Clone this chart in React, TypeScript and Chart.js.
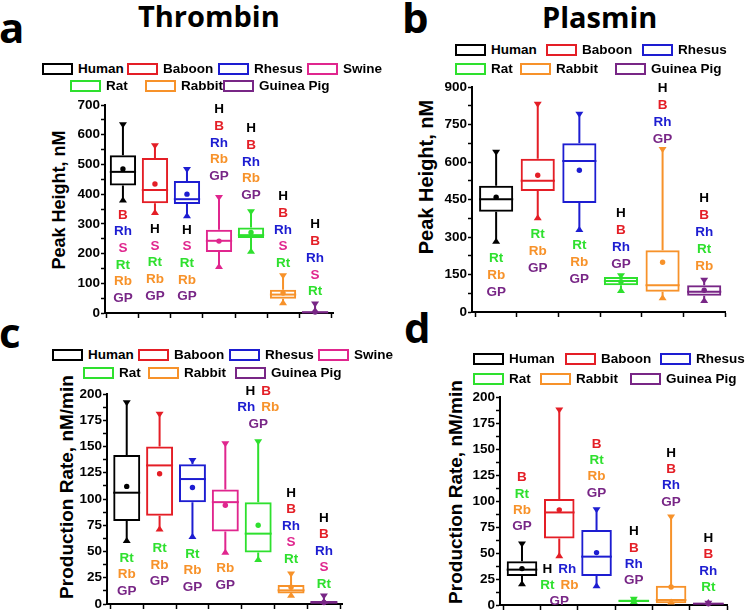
import React, { useEffect, useRef } from 'react';
import { Chart, registerables } from 'chart.js';
Chart.register(...registerables);

const FONT = '"Liberation Sans", Arial, Helvetica, sans-serif';
const HEAD_FONT = '"Open Sans", "Liberation Sans", Arial, sans-serif';

const SPECIES_COLORS: Record<string, string> = {
  Human: '#000000',
  Baboon: '#e41e26',
  Rhesus: '#1d1dd1',
  Swine: '#e0268e',
  Rat: '#2ee02e',
  Rabbit: '#f7922a',
  'Guinea Pig': '#782686',
};
const ABBR_COLORS: Record<string, string> = {
  H: '#000000', B: '#e41e26', Rh: '#1d1dd1', S: '#e0268e', Rt: '#2ee02e', Rb: '#f7922a', GP: '#782686',
};

// ---- categories ----
const speciesThrombin = ['Human', 'Baboon', 'Rhesus', 'Swine', 'Rat', 'Rabbit', 'Guinea Pig'];
const speciesPlasmin = ['Human', 'Baboon', 'Rhesus', 'Rat', 'Rabbit', 'Guinea Pig'];

// ---- (a) Thrombin peak height, nM ----
const thrPeakMin = [372, 330, 319, 148, 199, 26, 0];
const thrPeakQ1 = [429, 369, 367, 205, 252, 48, 0];
const thrPeakMedian = [475, 414, 383, 243, 262, 62, 2];
const thrPeakQ3 = [531, 522, 444, 280, 288, 78, 6];
const thrPeakMax = [642, 571, 491, 397, 349, 134, 39];
const thrPeakMean = [485, 434, 400, 242, 271, 67, 3];
const thrPeakNotes = ['B|Rh|S|Rt|Rb|GP', 'H|S|Rt|Rb|GP', 'H|S|Rt|Rb|GP', 'H|B|Rh|Rb|GP', 'H|B|Rh|Rb|GP', 'H|B|Rh|S|Rt', 'H|B|Rh|S|Rt'];
const thrPeakNoteAt = [330, 282, 280, 685, 621, 392, 297];
const thrPeakTicks = [0, 100, 200, 300, 400, 500, 600, 700];

// ---- (b) Plasmin peak height, nM ----
const plaPeakMin = [273, 367, 320, 76, 47, 36];
const plaPeakQ1 = [401, 484, 436, 107, 81, 65];
const plaPeakMedian = [451, 525, 604, 124, 107, 81];
const plaPeakQ3 = [505, 613, 675, 140, 247, 107];
const plaPeakMax = [649, 841, 801, 155, 660, 137];
const plaPeakMean = [459, 547, 567, 121, 199, 87];
const plaPeakNotes = ['Rt|Rb|GP', 'Rt|Rb|GP', 'Rt|Rb|GP', 'H|B|Rh|GP', 'H|B|Rh|GP', 'H|B|Rh|Rt|Rb'];
const plaPeakNoteAt = [213, 309, 267, 396, 896, 456];
const plaPeakTicks = [0, 150, 300, 450, 600, 750, 900];

// ---- (c) Thrombin production rate, nM/min ----
const thrRateMin = [58, 69, 62, 47, 40, 6, 0];
const thrRateQ1 = [79, 84, 97, 69, 49, 10, 0.3];
const thrRateMedian = [106, 132, 119, 97, 67, 13, 1.6];
const thrRateQ3 = [142, 150, 133, 109, 97, 18, 2.9];
const thrRateMax = [194, 183, 139, 155, 157, 31, 10];
const thrRateMean = [112, 124, 111, 94, 75, 16, 1.5];
const thrRateNotes = ['Rt|Rb|GP', 'Rt|Rb|GP', 'Rt|Rb|GP', 'Rb|GP', 'H B|Rh Rb|GP', 'H|B|Rh|S|Rt', 'H|B|Rh|S|Rt'];
const thrRateNoteAt = [43.6, 53, 47.4, 34, 203, 105.6, 81.7];
const thrRateTicks = [0, 25, 50, 75, 100, 125, 150, 175, 200];

// ---- (d) Plasmin production rate, nM/min ----
const plaRateMin = [18, 45, 16, 1, 0.6, 0];
const plaRateQ1 = [28, 64, 28, 3, 1.6, 0.6];
const plaRateMedian = [34, 89, 46.5, 4, 4.8, 1.3];
const plaRateQ3 = [42, 102, 72, 5, 18.6, 1.9];
const plaRateMax = [61, 190, 94, 8, 87, 4];
const plaRateMean = [35, 91.5, 50.4, 4.8, 17.3, 1.3];
const plaRateNotes = ['B|Rt|Rb|GP', 'H Rh|Rt Rb|GP', 'B|Rt|Rb|GP', 'H|B|Rh|GP', 'H|B|Rh|GP', 'H|B|Rh|Rt'];
const plaRateNoteAt = [122.6, 34.7, 154.7, 70.6, 146, 64.2];
const plaRateTicks = [0, 25, 50, 75, 100, 125, 150, 175, 200];

type PanelProps = {
  species: string[];
  min: number[]; q1: number[]; med: number[]; q3: number[]; max: number[]; mean: number[];
  notes: string[]; noteAt: number[];
  majorTicks: number[];
  xMin: number; xMax: number;
  left: number; top: number; width: number; height: number;
  padTop: number; noteGap: number;
};

function BoxPanel(p: PanelProps) {
  const ref = useRef<HTMLCanvasElement | null>(null);
  useEffect(() => {
    const canvas = ref.current;
    if (!canvas) return;
    const major = p.majorTicks;
    const yMax = major[major.length - 1];
    const minorStep = (major[1] - major[0]) / 2;
    const labelStep = major[1] - major[0];

    const boxPlugin = {
      id: 'boxWhiskers',
      afterDatasetsDraw(chart: any) {
        const ctx = chart.ctx;
        const ys = chart.scales.y;
        const meta = chart.getDatasetMeta(0);
        p.species.forEach((s, i) => {
          const bar: any = meta.data[i];
          const cx = bar.x;
          const hw = bar.width / 2;
          const col = SPECIES_COLORS[s];
          const pMax = ys.getPixelForValue(p.max[i]);
          const pMin = ys.getPixelForValue(p.min[i]);
          const pQ1 = ys.getPixelForValue(p.q1[i]);
          const pQ3 = ys.getPixelForValue(p.q3[i]);
          const pMed = ys.getPixelForValue(p.med[i]);
          const pMean = ys.getPixelForValue(p.mean[i]);
          ctx.save();
          ctx.strokeStyle = col;
          ctx.fillStyle = col;
          ctx.lineWidth = 2;
          ctx.beginPath();
          ctx.moveTo(cx, pQ3);
          ctx.lineTo(cx, pMax + 1);
          ctx.moveTo(cx, pQ1);
          ctx.lineTo(cx, pMin - 1);
          ctx.stroke();
          ctx.beginPath();
          ctx.moveTo(cx - hw, pMed);
          ctx.lineTo(cx + hw, pMed);
          ctx.stroke();
          ctx.beginPath();
          ctx.moveTo(cx - 4, pMax);
          ctx.lineTo(cx + 4, pMax);
          ctx.lineTo(cx, pMax + 6);
          ctx.closePath();
          ctx.fill();
          ctx.beginPath();
          ctx.moveTo(cx - 4, pMin);
          ctx.lineTo(cx + 4, pMin);
          ctx.lineTo(cx, pMin - 6);
          ctx.closePath();
          ctx.fill();
          ctx.beginPath();
          ctx.arc(cx, pMean, 2.7, 0, Math.PI * 2);
          ctx.fill();

          // significance letters
          ctx.font = `bold 13.5px ${FONT}`;
          ctx.textBaseline = 'middle';
          ctx.textAlign = 'left';
          const rows = p.notes[i] ? p.notes[i].split('|') : [];
          const y0 = ys.getPixelForValue(p.noteAt[i]);
          rows.forEach((row, r) => {
            const parts = row.split(' ');
            const gap = 6;
            const widths = parts.map((t) => ctx.measureText(t).width);
            const total = widths.reduce((a, b) => a + b, 0) + gap * (parts.length - 1);
            let x = cx - total / 2;
            parts.forEach((t, k) => {
              ctx.fillStyle = ABBR_COLORS[t] || '#000';
              ctx.fillText(t, x, y0 + r * p.noteGap);
              x += widths[k] + gap;
            });
          });
          ctx.restore();
        });
      },
    };

    const chart = new Chart(canvas, {
      type: 'bar',
      data: {
        datasets: [
          {
            data: p.species.map((_, i) => ({ x: i, y: [p.q1[i], p.q3[i]] })) as any,
            backgroundColor: 'rgba(0,0,0,0)',
            borderColor: p.species.map((s) => SPECIES_COLORS[s]),
            borderWidth: 2,
            borderSkipped: false,
            barPercentage: 0.82,
            categoryPercentage: 1,
          } as any,
        ],
      },
      options: {
        responsive: false,
        animation: false,
        layout: { padding: { top: p.padTop, right: 6, bottom: 4, left: 0 } },
        plugins: { legend: { display: false }, tooltip: { enabled: false }, title: { display: false } },
        scales: {
          x: {
            type: 'linear',
            min: p.xMin,
            max: p.xMax,
            offset: false,
            afterBuildTicks: (s: any) => {
              s.ticks = p.species.map((_, i) => ({ value: i }));
            },
            afterFit: (s: any) => {
              s.height = 8;
            },
            ticks: { display: false },
            grid: {
              display: true,
              drawOnChartArea: false,
              drawTicks: true,
              tickLength: 5,
              tickWidth: 1.5,
              tickColor: '#000',
              color: '#000',
            },
            border: { display: true, color: '#000', width: 2 },
          },
          y: {
            type: 'linear',
            min: 0,
            max: yMax,
            afterFit: (s: any) => {
              s.width = 40;
            },
            ticks: {
              stepSize: minorStep,
              autoSkip: false,
              padding: 1,
              color: '#000',
              font: { family: FONT, size: 13.5, weight: 'bold' },
              callback: (v: any) => {
                const r = v / labelStep;
                return Math.abs(r - Math.round(r)) < 1e-6 ? String(v) : '';
              },
            },
            grid: {
              display: true,
              drawOnChartArea: false,
              drawTicks: true,
              tickLength: 4,
              tickWidth: 1.5,
              tickColor: '#000',
              color: '#000',
            },
            border: { display: true, color: '#000', width: 2 },
          },
        },
      } as any,
      plugins: [boxPlugin],
    });
    return () => chart.destroy();
  }, []);

  return (
    <canvas
      ref={ref}
      width={p.width}
      height={p.height}
      style={{ position: 'absolute', left: p.left, top: p.top, width: p.width, height: p.height }}
    />
  );
}

type LegendPos = { name: string; x: number; y: number };

function Legend({ items }: { items: LegendPos[] }) {
  return (
    <>
      {items.map((it) => (
        <div
          key={it.name + it.x + it.y}
          style={{
            position: 'absolute',
            left: it.x,
            top: it.y,
            height: 12,
            display: 'flex',
            alignItems: 'center',
            whiteSpace: 'nowrap',
            zIndex: 2,
          }}
        >
          <span
            style={{
              display: 'inline-block',
              width: 31,
              height: 12,
              boxSizing: 'border-box',
              border: `2px solid ${SPECIES_COLORS[it.name]}`,
            }}
          />
          <span style={{ marginLeft: 5, font: `bold 13.5px ${FONT}`, color: '#000', lineHeight: '12px' }}>{it.name}</span>
        </div>
      ))}
    </>
  );
}

function YTitle({ text, cx, cy, size }: { text: string; cx: number; cy: number; size: number }) {
  return (
    <div
      style={{
        position: 'absolute',
        left: cx,
        top: cy,
        transform: 'translate(-50%, -50%) rotate(-90deg)',
        whiteSpace: 'nowrap',
        font: `bold ${size}px ${FONT}`,
        color: '#000',
        lineHeight: 1,
      }}
    >
      {text}
    </div>
  );
}

function Head({ text, x, y, size }: { text: string; x: number; y: number; size: number }) {
  return (
    <div
      style={{
        position: 'absolute',
        left: x,
        top: y,
        font: `bold ${size}px ${HEAD_FONT}`,
        lineHeight: `${size}px`,
        color: '#000',
        whiteSpace: 'nowrap',
      }}
    >
      {text}
    </div>
  );
}

const legendA: LegendPos[] = [
  { name: 'Human', x: 42, y: 63 }, { name: 'Baboon', x: 127, y: 63 }, { name: 'Rhesus', x: 218, y: 63 }, { name: 'Swine', x: 307, y: 63 },
  { name: 'Rat', x: 70, y: 80 }, { name: 'Rabbit', x: 145, y: 80 }, { name: 'Guinea Pig', x: 223, y: 80 },
];
const legendB: LegendPos[] = [
  { name: 'Human', x: 455, y: 44 }, { name: 'Baboon', x: 546, y: 44 }, { name: 'Rhesus', x: 642, y: 44 },
  { name: 'Rat', x: 455, y: 63 }, { name: 'Rabbit', x: 520, y: 63 }, { name: 'Guinea Pig', x: 615, y: 63 },
];
const legendC: LegendPos[] = [
  { name: 'Human', x: 52, y: 349 }, { name: 'Baboon', x: 138, y: 349 }, { name: 'Rhesus', x: 229, y: 349 }, { name: 'Swine', x: 318, y: 349 },
  { name: 'Rat', x: 83, y: 367 }, { name: 'Rabbit', x: 148, y: 367 }, { name: 'Guinea Pig', x: 235, y: 367 },
];
const legendD: LegendPos[] = [
  { name: 'Human', x: 473, y: 353 }, { name: 'Baboon', x: 565, y: 353 }, { name: 'Rhesus', x: 660, y: 353 },
  { name: 'Rat', x: 473, y: 373 }, { name: 'Rabbit', x: 540, y: 373 }, { name: 'Guinea Pig', x: 630, y: 373 },
];

export default function App() {
  return (
    <div style={{ position: 'absolute', left: 0, top: 0, width: 750, height: 610, background: '#fff', overflow: 'hidden' }}>
      <Head text="a" x={-1} y={6} size={42} />
      <Head text="b" x={402} y={-4} size={42} />
      <Head text="c" x={-1} y={311} size={42} />
      <Head text="d" x={404} y={306} size={42} />
      <Head text="Thrombin" x={138} y={1} size={29} />
      <Head text="Plasmin" x={542} y={2} size={29} />

      <Legend items={legendA} />
      <Legend items={legendB} />
      <Legend items={legendC} />
      <Legend items={legendD} />

      <YTitle text="Peak Height, nM" cx={59} cy={200} size={18} />
      <YTitle text="Peak Height, nM" cx={426} cy={177} size={20} />
      <YTitle text="Production Rate, nM/min" cx={66} cy={487} size={19} />
      <YTitle text="Production Rate, nM/min" cx={455} cy={492} size={19} />

      <BoxPanel
        species={speciesThrombin}
        min={thrPeakMin} q1={thrPeakQ1} med={thrPeakMedian} q3={thrPeakQ3} max={thrPeakMax} mean={thrPeakMean}
        notes={thrPeakNotes} noteAt={thrPeakNoteAt} majorTicks={thrPeakTicks}
        xMin={-0.56} xMax={6.56}
        left={65} top={83} width={274} height={242} padTop={22} noteGap={16.7}
      />
      <BoxPanel
        species={speciesPlasmin}
        min={plaPeakMin} q1={plaPeakQ1} med={plaPeakMedian} q3={plaPeakQ3} max={plaPeakMax} mean={plaPeakMean}
        notes={plaPeakNotes} noteAt={plaPeakNoteAt} majorTicks={plaPeakTicks}
        xMin={-0.58} xMax={5.5}
        left={432} top={67} width={299} height={257} padTop={20} noteGap={17}
      />
      <BoxPanel
        species={speciesThrombin}
        min={thrRateMin} q1={thrRateQ1} med={thrRateMedian} q3={thrRateQ3} max={thrRateMax} mean={thrRateMean}
        notes={thrRateNotes} noteAt={thrRateNoteAt} majorTicks={thrRateTicks}
        xMin={-0.6} xMax={6.55}
        left={67} top={374} width={281} height={242} padTop={20} noteGap={16.5}
      />
      <BoxPanel
        species={speciesPlasmin}
        min={plaRateMin} q1={plaRateQ1} med={plaRateMedian} q3={plaRateQ3} max={plaRateMax} mean={plaRateMean}
        notes={plaRateNotes} noteAt={plaRateNoteAt} majorTicks={plaRateTicks}
        xMin={-0.59} xMax={5.5}
        left={460} top={377} width={273} height={240} padTop={20} noteGap={16.3}
      />
    </div>
  );
}
